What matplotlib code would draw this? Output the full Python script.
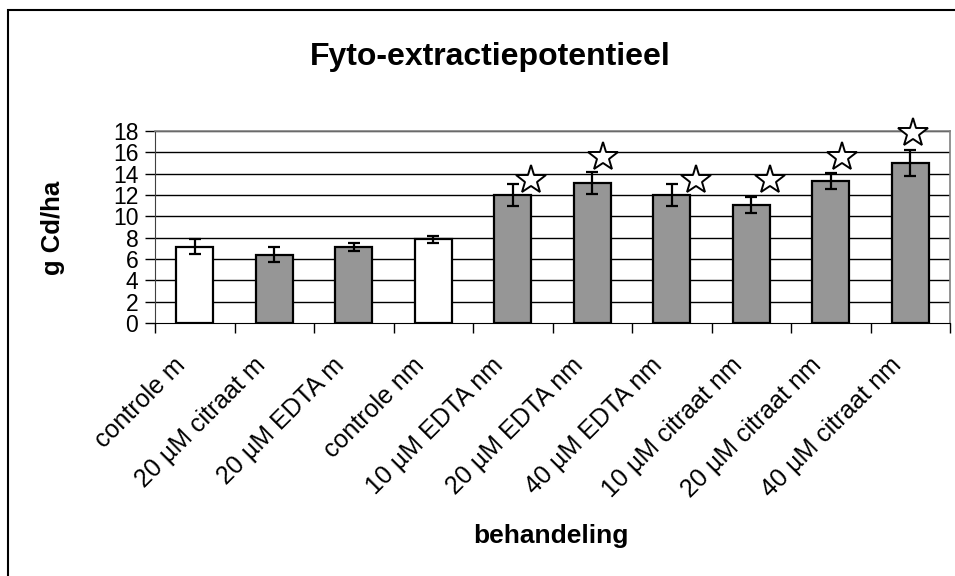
import numpy as np
import matplotlib.pyplot as plt
from matplotlib.patches import Rectangle

plt.rcParams['font.family'] = ['Liberation Sans', 'DejaVu Sans']

CATEGORIES = [
    "controle m", "20 µM citraat m", "20 µM EDTA m", "controle nm",
    "10 µM EDTA nm", "20 µM EDTA nm", "40 µM EDTA nm",
    "10 µM citraat nm", "20 µM citraat nm", "40 µM citraat nm",
]
VALUES = [7.15, 6.4, 7.1, 7.85, 12.0, 13.1, 12.0, 11.05, 13.3, 15.0]
ERRORS = [0.7, 0.72, 0.38, 0.35, 1.05, 1.05, 1.05, 0.75, 0.75, 1.25]
IS_CONTROL = [True, False, False, True, False, False, False, False, False, False]

# significance stars (placed by hand in the original)
STAR_IDX = [4, 5, 6, 7, 8, 9]
STAR_Y = [13.4, 15.6, 13.4, 13.4, 15.6, 17.85]
STAR_DX = [0.23, 0.13, 0.31, 0.23, 0.14, 0.04]

Y_TICKS = list(range(0, 19, 2))

fig = plt.figure(figsize=(9.55, 5.76), dpi=100)
ax = fig.add_axes([155 / 955, 1 - 323 / 576, (950 - 155) / 955, (323 - 131) / 576])

x = np.arange(len(CATEGORIES))
colors = ["white" if c else "#969696" for c in IS_CONTROL]

for y in Y_TICKS[1:]:
    ax.axhline(y, color="black", lw=1.0, zorder=0)

ax.bar(x, VALUES, width=0.46, color=colors, edgecolor="black", linewidth=1.6, zorder=2)
ax.errorbar(x, VALUES, yerr=ERRORS, fmt="none", ecolor="black", elinewidth=1.6,
            capsize=4, capthick=1.6, zorder=3)

sx = [x[i] + dx for i, dx in zip(STAR_IDX, STAR_DX)]
ax.plot(sx, STAR_Y, linestyle="none", marker="*", markersize=22,
        markerfacecolor="white", markeredgecolor="black", markeredgewidth=1.4,
        zorder=4, clip_on=False)

ax.set_xlim(-0.5, len(CATEGORIES) - 0.5)
ax.set_ylim(0, 18)
ax.set_yticks(Y_TICKS)
ax.set_yticklabels([str(v) for v in Y_TICKS], fontsize=16.5)
ax.tick_params(axis="y", length=7, width=1, direction="out", pad=5, color="black")

ax.set_xticks(np.arange(len(CATEGORIES) + 1) - 0.5)
ax.set_xticklabels([])
ax.tick_params(axis="x", length=7, width=1, direction="out", color="black")
for i, lab in enumerate(CATEGORIES):
    ax.text(i - 0.27, -2.8, lab, rotation=45, ha="right", va="top",
            rotation_mode="anchor", fontsize=18)

for side in ["top", "right"]:
    ax.spines[side].set_color("#808080")
    ax.spines[side].set_linewidth(1.2)
ax.spines["left"].set_color("#404040")
ax.spines["bottom"].set_color("black")

fig.text(490 / 955, 1 - 57 / 576, "Fyto-extractiepotentieel", ha="center", va="center",
         fontsize=23, fontweight="bold")
fig.text(53 / 955, 1 - 228 / 576, "g Cd/ha", rotation=90, ha="center", va="center",
         fontsize=18.5, fontweight="bold")
fig.text(551 / 955, 1 - 536 / 576, "behandeling",
         ha="center", va="center", fontsize=19, fontweight="bold")

fig.patches.append(Rectangle((8 / 955, -0.1), 2, 1.1 - 9.5 / 576, transform=fig.transFigure,
                             fill=False, edgecolor="black", linewidth=1.5))

fig.savefig("out.png", dpi=100)
